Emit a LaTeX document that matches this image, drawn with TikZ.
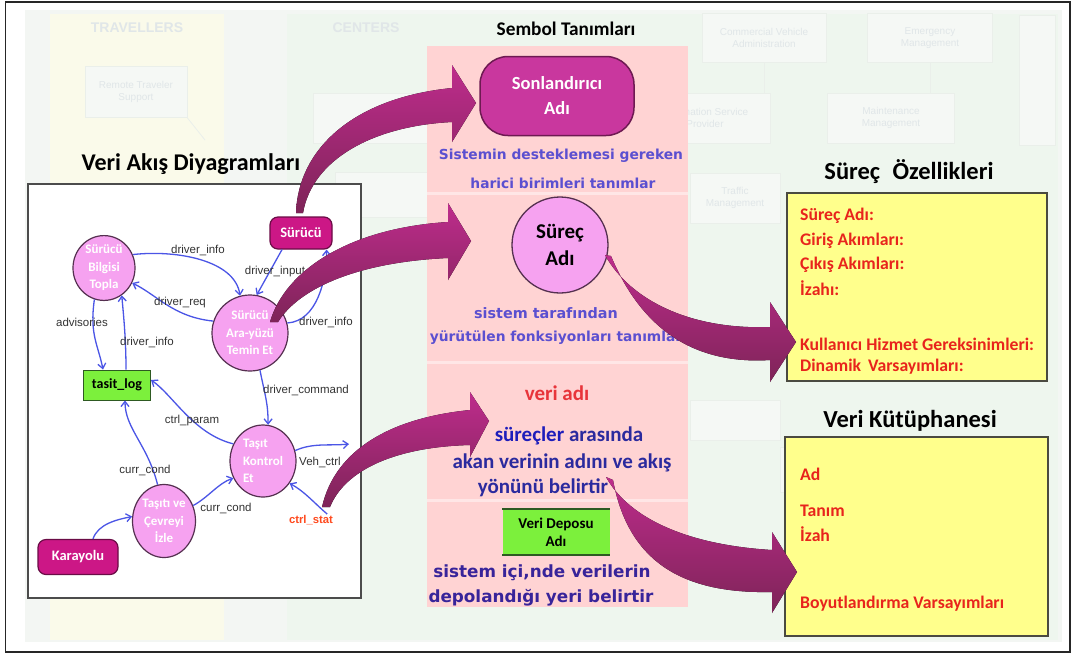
\documentclass[tikz,border=0pt]{standalone}
\usepackage{fontspec}
\setmainfont{Carlito}
\newfontfamily\arialf{Liberation Sans}
\newfontfamily\dejavu{DejaVu Sans}
\usetikzlibrary{arrows.meta,shapes.geometric}

\newcommand{\fsz}[2]{\fontsize{#1}{#2}\selectfont}

\definecolor{bgbase}{HTML}{F3F6F3}
\definecolor{travelbg}{HTML}{FAFAEA}
\definecolor{centerbg}{HTML}{EEF6EE}
\definecolor{ghostbox}{HTML}{F5F8F5}
\definecolor{ghostline}{HTML}{EAEFEA}
\definecolor{ghosttext}{HTML}{E0E6E8}
\definecolor{panelpink}{HTML}{FFD3D3}
\definecolor{panelsep}{HTML}{FFE6E6}
\definecolor{procfill}{HTML}{F6A2F0}
\definecolor{procedge}{HTML}{553050}
\definecolor{termfill}{HTML}{CC1786}
\definecolor{termedge}{HTML}{6A0C46}
\definecolor{sonfill}{HTML}{C9379E}
\definecolor{sonedge}{HTML}{6E1A52}
\definecolor{storefill}{HTML}{7CF03C}
\definecolor{storeedge}{HTML}{2E5A22}
\definecolor{flowblue}{HTML}{4B55E6}
\definecolor{flowtext}{HTML}{333333}
\definecolor{statred}{HTML}{FF4A1E}
\definecolor{descblue}{HTML}{5B4FD0}
\definecolor{navy}{HTML}{2B2A9E}
\definecolor{datared}{HTML}{E8343A}
\definecolor{notefill}{HTML}{FFFF8C}
\definecolor{noteedge}{HTML}{4A4A40}
\definecolor{notered}{HTML}{E8241C}
\definecolor{ribbontop}{HTML}{BE2C8C}
\definecolor{ribbonbot}{HTML}{7E2458}

\begin{document}
\begin{tikzpicture}[x=1pt,y=-1pt,
  ghost/.style={draw=ghostline, fill=ghostbox, line width=0.8pt},
  ghostlabel/.style={text=ghosttext, font=\arialf\fsz{10}{12}, align=center},
  proc/.style={ellipse, draw=procedge, line width=1.2pt, fill=procfill,
    text=white, font=\bfseries\fsz{13}{17.5}, align=center, inner sep=0pt},
  term/.style={rectangle, rounded corners=8pt, draw=termedge, line width=1.2pt,
    fill=termfill, text=white, font=\bfseries\fsz{14.5}{17}, inner sep=0pt},
  store/.style={rectangle, fill=storefill, inner sep=0pt},
  flow/.style={draw=flowblue, line width=1.3pt,
    -{Straight Barb[length=5pt,width=8pt]}},
  flowlabel/.style={font=\arialf\fsz{11.5}{13}, text=flowtext, inner sep=1pt},
  heading/.style={font=\bfseries\fsz{24.5}{28}, text=black},
  desc/.style={font=\dejavu\bfseries\fsz{13.8}{16}, text=descblue},
  navytext/.style={font=\bfseries\fsz{21}{24}, text=navy},
  storetext/.style={font=\dejavu\bfseries\fsz{16.8}{19}, text=navy!85!violet},
  note/.style={rectangle, draw=noteedge, line width=1.6pt, fill=notefill},
  noteline/.style={anchor=west, font=\bfseries\fsz{17.7}{20}, text=notered, inner sep=0pt},
  ribbon/.style={top color=ribbontop, bottom color=ribbonbot, draw=none}
]
\useasboundingbox (0,0) rectangle (1075,657);
\fill[white] (0,0) rectangle (1075,657);

% ---- faded architecture backdrop ----
\fill[bgbase] (25,10) rectangle (1062,642);
\fill[travelbg] (50,14) rectangle (224,640);
\fill[centerbg] (287,14) rectangle (1058,640);
\node[ghostlabel, font=\arialf\bfseries\fsz{14}{16}] (gtrav) at (137,28) {TRAVELLERS};
\node[ghostlabel, font=\arialf\bfseries\fsz{14}{16}] (gcent) at (366,28) {CENTERS};
\node[ghost, ghostlabel, minimum width=102pt, minimum height=51pt] (grts) at (136,92) {Remote Traveler\\Support};
\draw[ghostline, line width=0.8pt] (grts.south east) -- (205,140);
\node[ghost, ghostlabel, minimum width=124pt, minimum height=49pt] (gcva) at (764,38) {Commercial Vehicle\\Administration};
\node[ghost, ghostlabel, minimum width=125pt, minimum height=49pt] (gem) at (930,38) {Emergency\\Management};
\node[ghost, minimum width=117pt, minimum height=50pt] (gemm) at (372,118) {};
\node[ghost, ghostlabel, minimum width=130pt, minimum height=50pt] (gisp) at (705,118) {Information Service\\Provider};
\node[ghost, ghostlabel, minimum width=127pt, minimum height=50pt] (gmm) at (891,118) {Maintenance\\Management};
\node[ghost, minimum width=92pt, minimum height=45pt] (gtm) at (381,195) {};
\node[ghost, ghostlabel, minimum width=90pt, minimum height=50pt] (gtraf) at (735,198) {Traffic\\Management};
\node[ghost, minimum width=36pt, minimum height=130pt] (gside) at (1037,80) {};
\draw[ghostline, line width=0.8pt] (gcva.south) -- (gmm.north -| gcva.south);
\draw[ghostline, line width=0.8pt] (gem.south) -- (gem.south |- gmm.north);
\node[ghost, minimum width=90pt, minimum height=40pt] (gint) at (735,420) {};
\node[ghost, minimum width=80pt, minimum height=45pt] (gfl) at (820,470) {};

% ---- data flow diagram panel ----
\node[heading, font=\bfseries\fsz{24}{28}] (dfdtitle) at (191,164) {Veri Akış Diyagramları};
\draw[draw=black!70, fill=white, line width=1.5pt] (28,184) rectangle (361,598);

\node[proc, minimum width=62pt, minimum height=64pt] (bt) at (104,268) {Sürücü\\Bilgisi\\Topla};
\node[term, minimum width=62pt, minimum height=32pt] (sur) at (301,233) {Sürücü};
\node[proc, minimum width=76pt, minimum height=76pt] (ay) at (250,333) {Sürücü\\Ara-yüzü\\Temin Et};
\node[store, draw=storeedge, line width=1pt, minimum width=67pt, minimum height=30pt,
  font=\bfseries\fsz{14}{16}] (tl) at (117,385) {tasit\_log};
\node[proc, minimum width=66pt, minimum height=72pt, align=left] (tk) at (263,461) {Taşıt\\Kontrol\\Et};
\node[proc, minimum width=63pt, minimum height=73pt] (ti) at (164,521) {Taşıtı ve\\Çevreyi\\İzle};
\node[term, minimum width=80pt, minimum height=35pt] (kar) at (78,557) {Karayolu};
\node[font=\arialf\bfseries\fsz{11.3}{13}, text=statred, inner sep=1pt] (cs) at (311,520) {ctrl\_stat};
\coordinate (vehout) at (349,444);

\draw[flow] (bt.25) .. controls +(45,-5) and +(-5,-35) .. (ay.105);
\node[flowlabel] (l1) at (198,250) {driver\_info};
\draw[flow] ([xshift=-19pt]sur.south) -- (ay.80);
\node[flowlabel] (l2) at (275,272) {driver\_input};
\draw[flow] (ay.15) .. controls +(30,-2) and +(0,30) .. ([xshift=-6pt]sur.south east);
\node[flowlabel] (l3) at (326,322) {driver\_info};
\draw[flow] (ay.162) .. controls +(-40,-4) and +(25,12) .. (bt.-28);
\node[flowlabel] (l4) at (180,303) {driver\_req};
\draw[flow] (bt.253) .. controls +(-5,35) and +(-5,-25) .. ([xshift=-14pt]tl.north);
\node[flowlabel] (l5) at (82,322) {advisories};
\draw[flow] ([xshift=9pt]tl.north) .. controls +(0,-30) and +(2,22) .. (bt.-57);
\node[flowlabel] (l6) at (147,342) {driver\_info};
\draw[flow] (ay.-75) .. controls +(5,25) and +(0,-22) .. (tk.82);
\node[flowlabel] (l7) at (306,390) {driver\_command};
\draw[flow] (tk.150) .. controls +(-40,-10) and +(22,15) .. ([yshift=5pt]tl.east);
\node[flowlabel] (l8) at (192,421) {ctrl\_param};
\draw[flow] (ti.100) .. controls +(-10,-40) and +(0,28) .. ([xshift=8pt]tl.south);
\node[flowlabel] (l9) at (145,470) {curr\_cond};
\draw[flow] (ti.28) .. controls +(15,-8) and +(-15,5) .. (tk.-150);
\node[flowlabel] (l10) at (226,508) {curr\_cond};
\draw[flow] (tk.18) .. controls +(18,-8) and +(-20,2) .. (vehout);
\node[flowlabel] (l11) at (320,462) {Veh\_ctrl};
\draw[flow] ([xshift=-7pt]cs.north east) .. controls +(-12,-10) and +(15,8) .. (tk.-40);
\draw[flow] ([xshift=15pt]kar.north) .. controls +(5,-15) and +(-15,3) .. (ti.172);

% ---- symbol definitions column ----
\node[font=\bfseries\fsz{19.3}{22}] (symtitle) at (566,29) {Sembol Tanımları};
\fill[panelpink] (427,46) rectangle (688,607);
\foreach \yy in {193,362,500} \fill[panelsep] (427,\yy-1.5) rectangle (688,\yy+1.5);

\node[rectangle, rounded corners=28pt, draw=sonedge, line width=1.5pt, fill=sonfill,
  text=white, font=\bfseries\fsz{18.5}{25}, align=center,
  minimum width=154pt, minimum height=79pt] (son) at (557,96) {Sonlandırıcı\\Adı};
\node[desc] (d1) at (561,156) {Sistemin desteklemesi gereken};
\node[desc] (d2) at (563,183) {harici birimleri tanımlar};

\node[circle, draw=procedge, line width=1.3pt, fill=procfill, minimum size=96pt,
  font=\bfseries\fsz{21}{27}, align=center, inner sep=0pt] (surec) at (560,245) {Süreç\\Adı};
\node[desc, font=\dejavu\bfseries\fsz{14.4}{16}] (d3) at (546,313) {sistem tarafından};
\node[desc] (d4) at (556,338) {yürütülen fonksiyonları tanımlar};

\node[font=\bfseries\fsz{21}{24}, text=datared] (veriadi) at (557,393) {veri adı};
\node[navytext] (n1) at (569,436) {\textcolor{navy!70!blue}{süreçler} arasında};
\node[navytext] (n2) at (562,463) {akan verinin adını ve akış};
\node[navytext] (n3) at (543,488) {yönünü belirtir};

\node[store, minimum width=107pt, minimum height=46pt, font=\bfseries\fsz{15}{18},
  align=center] (depo) at (556,532) {Veri Deposu\\Adı};
\draw[storeedge, line width=2pt] (depo.north west) -- (depo.north east);
\draw[storeedge, line width=2pt] (depo.south west) -- (depo.south east);
\node[storetext] (s1) at (542,573) {sistem içi,nde verilerin};
\node[storetext] (s2) at (541,598) {depolandığı yeri belirtir};

% ---- process specification ----
\node[heading] (spectitle) at (909,172) {Süreç \;Özellikleri};
\node[note, minimum width=260pt, minimum height=188pt] (spec) at (917,287) {};
\node[noteline] (p1) at (800,216) {Süreç Adı:};
\node[noteline] (p2) at (800,241) {Giriş Akımları:};
\node[noteline] (p3) at (800,265) {Çıkış Akımları:};
\node[noteline] (p4) at (800,288) {İzahı:};
\node[noteline] (p5) at (800,344) {Kullanıcı Hizmet Gereksinimleri:};
\node[noteline] (p6) at (800,367) {Dinamik \,Varsayımları:};

% ---- data dictionary ----
\node[heading] (libtitle) at (910,421) {Veri Kütüphanesi};
\node[note, minimum width=263pt, minimum height=199pt] (lib) at (916.5,536.5) {};
\node[noteline] (q1) at (800,474) {Ad};
\node[noteline] (q2) at (800,511) {Tanım};
\node[noteline] (q3) at (800,534) {İzah};
\node[noteline] (q4) at (800,604) {Boyutlandırma Varsayımları};

% ---- curved pointer ribbons ----
\fill[ribbon] (296,213) .. controls (298,150) and (352,98) .. (452,88)
  -- (452,65) -- (476,103) -- (452,142) -- (452,122)
  .. controls (372,126) and (312,160) .. (303,213) -- cycle;
\fill[ribbon] (270,322) .. controls (285,270) and (350,228) .. (448,222)
  -- (448,203) -- (471,241) -- (448,280) -- (448,258)
  .. controls (360,262) and (300,287) .. (278,322) -- cycle;
\fill[ribbon] (605,255) .. controls (630,300) and (690,330) .. (770,327)
  -- (770,302) -- (796,342) -- (770,382) -- (770,360)
  .. controls (690,365) and (640,325) .. (611,256) -- cycle;
\fill[ribbon] (322,507) .. controls (335,450) and (390,418) .. (470,410)
  -- (470,392) -- (489,421) -- (470,457) -- (470,445)
  .. controls (395,447) and (345,470) .. (330,507) -- cycle;
\fill[ribbon] (606,477) .. controls (630,520) and (690,545) .. (772,550)
  -- (772,532) -- (797,572) -- (772,613) -- (772,592)
  .. controls (680,594) and (628,560) .. (613,480) -- cycle;

% ---- outer frame ----
\draw[black!85, line width=1.5pt] (5.5,2) rectangle (1070,652);
\end{tikzpicture}
\end{document}
